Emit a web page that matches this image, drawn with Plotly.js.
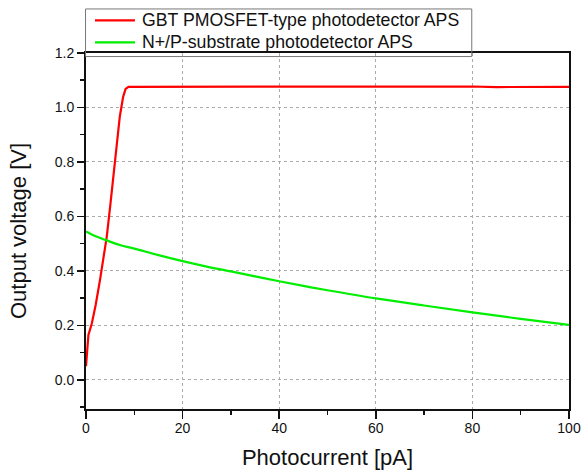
<!DOCTYPE html>
<html>
<head>
<meta charset="utf-8">
<script src="https://cdn.plot.ly/plotly-3.0.1.min.js"></script>
<style>html,body{margin:0;padding:0;background:#fff;}#chart{width:582px;height:475px;}</style>
</head>
<body>
<div id="chart"></div>
<script>
// Series names
const seriesNames = ["GBT PMOSFET-type photodetector APS", "N+/P-substrate photodetector APS"];
const seriesColors = ["#ff0000", "#00ee00"];

// GBT PMOSFET-type photodetector APS (red)
const redX = [0, 0.15, 0.5, 1.2, 2.0, 2.9, 3.6, 4.3, 5.0, 5.7, 6.3, 7.0, 7.7, 8.2, 8.8, 10, 20, 30, 40, 50, 55, 60, 65, 70, 80, 85, 88, 90, 95, 100];
const redY = [0.05, 0.08, 0.165, 0.207, 0.275, 0.367, 0.44, 0.526, 0.636, 0.759, 0.869, 0.967, 1.04, 1.068, 1.076, 1.076, 1.077, 1.076, 1.076, 1.077, 1.078, 1.077, 1.077, 1.076, 1.077, 1.075, 1.075, 1.076, 1.076, 1.076];

// N+/P-substrate photodetector APS (green)
const greenX = [0, 2, 4, 7, 10, 15, 20, 25, 30, 35, 40, 45, 50, 60, 70, 80, 90, 100];
const greenY = [0.545, 0.527, 0.514, 0.495, 0.482, 0.458, 0.436, 0.416, 0.398, 0.380, 0.362, 0.345, 0.329, 0.299, 0.273, 0.248, 0.224, 0.202];

// Axis ticks
const xTicks = [0, 20, 40, 60, 80, 100];
const yTicks = [0.0, 0.2, 0.4, 0.6, 0.8, 1.0, 1.2];
const yTickText = yTicks.map(v => v.toFixed(1));

const font = "Liberation Sans, Arial, Helvetica, sans-serif";

const traces = [
  {x: redX, y: redY, name: seriesNames[0], type: "scatter", mode: "lines",
   line: {color: seriesColors[0], width: 2.2}},
  {x: greenX, y: greenY, name: seriesNames[1], type: "scatter", mode: "lines",
   line: {color: seriesColors[1], width: 2.2, shape: "spline"}}
];

// Legend drawn manually (box, line samples, labels) in paper coordinates
const legendRowsY = [1.0917, 1.0298];
const shapes = [
  {type: "rect", xref: "paper", yref: "paper", x0: -0.001, x1: 0.7987, y0: 0.99, y1: 1.1237,
   line: {color: "#777", width: 1}, fillcolor: "rgba(0,0,0,0)", layer: "above"}
];
const annotations = [];
seriesNames.forEach((name, i) => {
  shapes.push({type: "line", xref: "paper", yref: "paper", x0: 0.0186, x1: 0.1014,
    y0: legendRowsY[i], y1: legendRowsY[i], line: {color: seriesColors[i], width: 2.2}});
  annotations.push({xref: "paper", yref: "paper", x: 0.1138, y: legendRowsY[i],
    xanchor: "left", yanchor: "middle", text: name, showarrow: false, borderpad: 0,
    font: {family: font, size: 17.7, color: "#111"}});
});

const layout = {
  width: 582, height: 475,
  margin: {l: 86, r: 12.7, t: 53.3, b: 66.3},
  paper_bgcolor: "#fff", plot_bgcolor: "#fff",
  font: {family: font, color: "#111"},
  showlegend: false,
  shapes: shapes,
  annotations: annotations,
  xaxis: {
    range: [0, 100], tickvals: xTicks, ticktext: xTicks.map(String),
    ticks: "outside", ticklen: 8, tickwidth: 1.5, tickcolor: "#111",
    minor: {dtick: 10, tick0: 0, ticks: "outside", ticklen: 4, tickwidth: 1.5, tickcolor: "#111", showgrid: false},
    showline: true, linecolor: "#111", linewidth: 2, mirror: true,
    showgrid: true, gridcolor: "#aaa", gridwidth: 1, griddash: "dot",
    zeroline: false, ticklabelstandoff: -3,
    tickfont: {family: font, size: 14, color: "#111"},
    title: {text: "Photocurrent [pA]", font: {family: font, size: 22, color: "#111"}, standoff: 15},
    automargin: false
  },
  yaxis: {
    range: [-0.107, 1.2], tickvals: yTicks, ticktext: yTickText,
    ticks: "outside", ticklen: 7, tickwidth: 1.5, tickcolor: "#111",
    minor: {dtick: 0.1, tick0: 0, ticks: "outside", ticklen: 4, tickwidth: 1.5, tickcolor: "#111", showgrid: false},
    showline: true, linecolor: "#111", linewidth: 2, mirror: true,
    showgrid: true, gridcolor: "#aaa", gridwidth: 1, griddash: "dot",
    zeroline: false,
    tickfont: {family: font, size: 14, color: "#111"},
    title: {text: "Output voltage [V]", font: {family: font, size: 22, color: "#111"}, standoff: 22},
    automargin: false
  }
};

Plotly.newPlot("chart", traces, layout, {displayModeBar: false, staticPlot: true});
</script>
</body>
</html>
